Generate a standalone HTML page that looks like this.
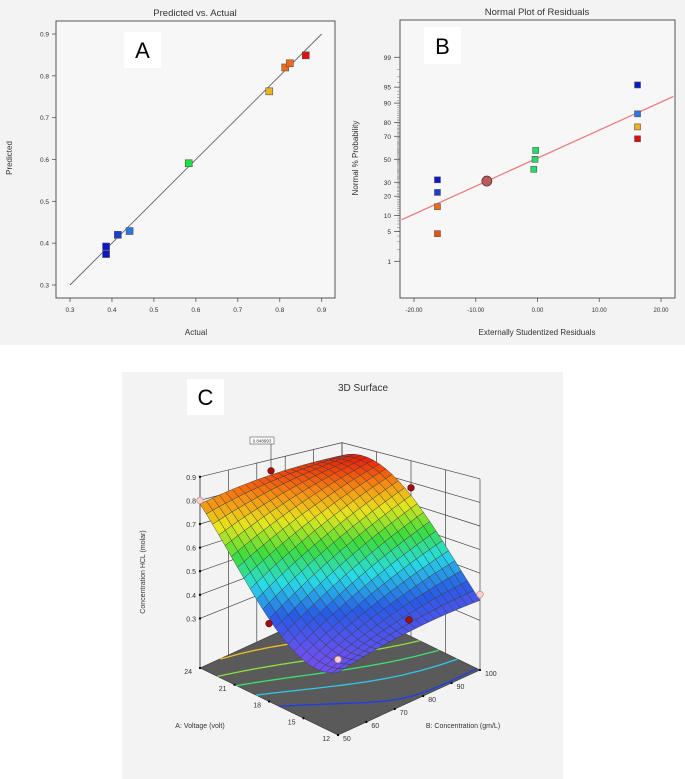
<!DOCTYPE html>
<html><head><meta charset="utf-8"><style>
html,body{margin:0;padding:0;background:#fff;}
body{width:685px;height:779px;position:relative;overflow:hidden;font-family:"Liberation Sans",sans-serif;}
svg{position:absolute;left:0;top:0;}
text{font-family:"Liberation Sans",sans-serif;}
</style></head><body>
<svg id="svg" width="685" height="779" viewBox="0 0 685 779">
<rect x="0" y="0" width="685" height="345" fill="#f3f3f3"/>
<rect x="122" y="372" width="441" height="407" fill="#f3f3f3"/>
<g id="gA"></g>
<g id="gB"></g>
<g id="gC"></g>
</svg>
<script>
// ---------- Panel A data ----------
const aActual = [0.386,0.386,0.414,0.442,0.583,0.775,0.813,0.824,0.862];
const aPredicted = [0.392,0.374,0.420,0.429,0.591,0.763,0.820,0.830,0.849];
const aColors = ['#0a16c8','#0a16c8','#1840d0','#2a78e0','#22dd44','#f0b020','#f06a18','#f06a18','#e01010'];
const aTicks = [0.3,0.4,0.5,0.6,0.7,0.8,0.9];
// ---------- Panel B data ----------
const bResid = [-16.2,-16.2,-16.2,-16.2,-0.3,-0.4,-0.6,16.2,16.2,16.2,16.2];
const bProb = [32,22.5,14,4.5,58,50,41,95.5,85,77,68];
const bColors = ['#0a16c8','#1840d0','#f06a18','#f05010','#22dd66','#22dd66','#22dd66','#0a16c8','#2a78e0','#f0b020','#e01010'];
const bTickProb = [99,95,90,80,70,50,30,20,10,5,1];
const bTickX = [-20,-10,0,10,20];
const bLineX = [-22,22];
const bLineProb = [8.4,92.4];
const bHighlight = [-8.2,31];
// ---------- Panel C data ----------
const cZTicks = [0.3,0.4,0.5,0.6,0.7,0.8,0.9];
const cATicks = [24,21,18,15,12];
const cBTicks = [50,60,70,80,90,100];
const cPtsA = [24,18,18,12,24,12,12];
const cPtsB = [75,100,50,75,50,50,100];
const cPtsZ = [0.849,0.775,0.42,0.44,0.80,0.41,0.41];
const cPtsAbove = [true,true,true,true,false,false,false];
const cLevels = [0.4,0.5,0.6,0.7,0.8];
const cLevelColors = ['#1c3cf0','#30c8e8','#3ce070','#8ce040','#f0c020'];

const NS='http://www.w3.org/2000/svg';
function el(p,tag,attrs,txt){const e=document.createElementNS(NS,tag);for(const k in attrs)e.setAttribute(k,attrs[k]);if(txt!==undefined)e.textContent=txt;p.appendChild(e);return e;}

// ===== Panel A =====
(function(){
const g=document.getElementById('gA');
const X=v=>70+(v-0.3)/0.6*251.7, Y=v=>285-(v-0.3)/0.6*251;
let r=el(g,'rect',{x:56,y:21,width:279,height:277,fill:'#f7f7f7',stroke:'#555','stroke-width':1});


let t=el(g,'text',{x:195,y:16,'font-size':9.5,'text-anchor':'middle',fill:'#333'},'Predicted vs. Actual');


aTicks.forEach(v=>{
 el(g,'line',{x1:52,x2:56,y1:Y(v),y2:Y(v),stroke:'#555','stroke-width':0.8});
 let l=el(g,'text',{x:49,y:Y(v)+2.5,'font-size':6.5,'text-anchor':'end',fill:'#333'},v.toFixed(1));
 
 
 el(g,'line',{x1:X(v),x2:X(v),y1:298,y2:302,stroke:'#555','stroke-width':0.8});
 let m=el(g,'text',{x:X(v),y:312,'font-size':6.5,'text-anchor':'middle',fill:'#333'},v.toFixed(1));
 
 
});
let xl=el(g,'text',{x:196,y:335,'font-size':8,'text-anchor':'middle',fill:'#333'},'Actual');


let yl=el(g,'text',{x:12,y:158,'font-size':8,'text-anchor':'middle',fill:'#333',transform:'rotate(-90 12 158)'},'Predicted');


let ln=el(g,'line',{x1:X(0.3),y1:Y(0.3),x2:X(0.9),y2:Y(0.9),stroke:'#666','stroke-width':0.9});


aActual.forEach((v,i)=>{
 let p=el(g,'rect',{x:X(v)-3.5,y:Y(aPredicted[i])-3.5,width:7,height:7,fill:aColors[i],stroke:'#555','stroke-width':0.6});
 
 
});
let lb=el(g,'rect',{x:124,y:32,width:37,height:36,fill:'#fff'});


let lt=el(g,'text',{x:142.5,y:58,'font-size':22,'text-anchor':'middle','font-family':'Liberation Serif',fill:'#000'},'A');


})();

// ===== Panel B =====
function invNorm(p){
 const a=[-39.69683028665376,220.9460984245205,-275.9285104469687,138.357751867269,-30.66479806614716,2.506628277459239];
 const b=[-54.47609879822406,161.5858368580409,-155.6989798598866,66.80131188771972,-13.28068155288572];
 const c=[-0.007784894002430293,-0.3223964580411365,-2.400758277161838,-2.549732539343734,4.374664141464968,2.938163982698783];
 const d=[0.007784695709041462,0.3224671290700398,2.445134137142996,3.754408661907416];
 const pl=0.02425;let q,r;
 if(p<pl){q=Math.sqrt(-2*Math.log(p));return (((((c[0]*q+c[1])*q+c[2])*q+c[3])*q+c[4])*q+c[5])/((((d[0]*q+d[1])*q+d[2])*q+d[3])*q+1);}
 if(p>1-pl){q=Math.sqrt(-2*Math.log(1-p));return -(((((c[0]*q+c[1])*q+c[2])*q+c[3])*q+c[4])*q+c[5])/((((d[0]*q+d[1])*q+d[2])*q+d[3])*q+1);}
 q=p-0.5;r=q*q;return (((((a[0]*r+a[1])*r+a[2])*r+a[3])*r+a[4])*r+a[5])*q/(((((b[0]*r+b[1])*r+b[2])*r+b[3])*r+b[4])*r+1);
}
(function(){
const g=document.getElementById('gB');
const X=v=>537.5+v*6.175, Y=p=>159.3-invNorm(p/100)*43.85;
let r=el(g,'rect',{x:400,y:20,width:275,height:278,fill:'#f7f7f7',stroke:'#555','stroke-width':1});


let t=el(g,'text',{x:537,y:15,'font-size':9.5,'text-anchor':'middle',fill:'#333'},'Normal Plot of Residuals');


for(let p=2;p<99;p+=1){el(g,'line',{x1:397,x2:400,y1:Y(p),y2:Y(p),stroke:'#777','stroke-width':0.5});}
bTickProb.forEach(p=>{
 el(g,'line',{x1:394,x2:400,y1:Y(p),y2:Y(p),stroke:'#555','stroke-width':0.8});
 let l=el(g,'text',{x:391,y:Y(p)+2.5,'font-size':6.5,'text-anchor':'end',fill:'#333'},String(p));
 
 
});
bTickX.forEach(v=>{
 el(g,'line',{x1:X(v),x2:X(v),y1:298,y2:302,stroke:'#555','stroke-width':0.8});
 let m=el(g,'text',{x:X(v),y:312,'font-size':6,'text-anchor':'middle',fill:'#333'},v.toFixed(2));
 
 
});
let xl=el(g,'text',{x:537,y:335,'font-size':8,'text-anchor':'middle',fill:'#333'},'Externally Studentized Residuals');


let yl=el(g,'text',{x:358,y:158,'font-size':8,'text-anchor':'middle',fill:'#333',transform:'rotate(-90 358 158)'},'Normal % Probability');


let ln=el(g,'line',{x1:X(bLineX[0]),y1:Y(bLineProb[0]),x2:X(bLineX[1]),y2:Y(bLineProb[1]),stroke:'#e88080','stroke-width':1.3});


let hc=el(g,'circle',{cx:X(bHighlight[0]),cy:Y(bHighlight[1]),r:5,fill:'#b85c5c',stroke:'#6a3030','stroke-width':0.8});


bResid.forEach((v,i)=>{
 let p=el(g,'rect',{x:X(v)-3,y:Y(bProb[i])-3,width:6,height:6,fill:bColors[i],stroke:'#555','stroke-width':0.6});
 
 
});
let lb=el(g,'rect',{x:424,y:27,width:37,height:37,fill:'#fff'});


let lt=el(g,'text',{x:442.5,y:54,'font-size':22,'text-anchor':'middle','font-family':'Liberation Serif',fill:'#000'},'B');


})();

// ===== Panel C =====
(function(){
const g=document.getElementById('gC');
const ZF=0.09;
function surf(A,B){const a=(A-18)/6,b=(B-75)/25;
 const c0=0.61+0.30*a-0.08*a*a*a;
 const bc=0.15+0.005*a-0.13*a*a;
 return c0+bc*b-0.02*b*b;}
function P(A,B,z){const u=(24-A)/12,v=(B-50)/50;const k=236-38*v*(1-u);
 const x=200+138*u+142*v, y=668+67*u-65*v-(z-ZF)*k;return [x,y];}
function pts(arr){return arr.map(p=>p[0].toFixed(1)+','+p[1].toFixed(1)).join(' ');}
let t=el(g,'text',{x:363,y:391,'font-size':10,'text-anchor':'middle',fill:'#333'},'3D Surface');


let fl=el(g,'polygon',{points:pts([P(24,50,ZF),P(12,50,ZF),P(12,100,ZF),P(24,100,ZF)]),fill:'#5a5a5a',stroke:'#333','stroke-width':0.6});


cLevels.forEach((L,li)=>{
 const seg=[];
 for(let B=50;B<=100.01;B+=1){
  let lo=12,hi=24;
  if((surf(lo,B)-L)*(surf(hi,B)-L)>0)continue;
  for(let it=0;it<30;it++){const m=(lo+hi)/2;if(surf(m,B)<L)lo=m;else hi=m;}
  seg.push(P((lo+hi)/2,B,ZF));
 }
 if(seg.length>1){let c=el(g,'polyline',{points:pts(seg),fill:'none',stroke:cLevelColors[li],'stroke-width':1.3});
 
 }
});
const wallStroke={stroke:'#444','stroke-width':0.7,fill:'none'};
cZTicks.forEach(z=>{
 el(g,'polyline',Object.assign({points:pts([P(24,50,z),P(24,100,z),P(12,100,z)])},wallStroke));
});
cBTicks.forEach(B=>{el(g,'line',Object.assign({x1:P(24,B,ZF)[0],y1:P(24,B,ZF)[1],x2:P(24,B,0.9)[0],y2:P(24,B,0.9)[1]},wallStroke));});
cATicks.forEach(A=>{el(g,'line',Object.assign({x1:P(A,100,ZF)[0],y1:P(A,100,ZF)[1],x2:P(A,100,0.9)[0],y2:P(A,100,0.9)[1]},wallStroke));});
el(g,'line',Object.assign({x1:P(24,50,ZF)[0],y1:P(24,50,ZF)[1],x2:P(24,50,0.9)[0],y2:P(24,50,0.9)[1]},wallStroke));
cZTicks.forEach(z=>{const p=P(24,50,z);
 el(g,'circle',{cx:p[0],cy:p[1],r:1.2,fill:'#000'});
 let l=el(g,'text',{x:p[0]-4,y:p[1]+3,'font-size':7,'text-anchor':'end',fill:'#333'},z.toFixed(1));
 
 
});
cATicks.forEach(A=>{const p=P(A,50,ZF);
 el(g,'circle',{cx:p[0],cy:p[1],r:1.1,fill:'#000'});
 let l=el(g,'text',{x:p[0]-8,y:p[1]+6,'font-size':7,'text-anchor':'end',fill:'#333'},String(A));
 
 
});
cBTicks.forEach(B=>{const p=P(12,B,ZF);
 el(g,'circle',{cx:p[0],cy:p[1],r:1.1,fill:'#000'});
 let l=el(g,'text',{x:p[0]+5,y:p[1]+6,'font-size':7,'text-anchor':'start',fill:'#333'},String(B));
 
 
});
function jet(f){f=Math.max(0,Math.min(1,f));
 const stops=[[0,[110,80,240]],[0.2,[40,90,230]],[0.38,[40,220,230]],[0.55,[60,220,60]],[0.72,[230,230,30]],[0.86,[245,140,20]],[1,[235,30,10]]];
 for(let i=1;i<stops.length;i++){if(f<=stops[i][0]){const s=stops[i-1],e=stops[i],t=(f-s[0])/(e[0]-s[0]);
  return 'rgb('+s[1].map((c,j)=>Math.round(c+(e[1][j]-c)*t)).join(',')+')';}}
 return 'rgb(235,30,10)';}
const N=22, quads=[];
for(let i=0;i<N;i++)for(let j=0;j<N;j++){
 const A0=24-12*i/N,A1=24-12*(i+1)/N,B0=50+50*j/N,B1=50+50*(j+1)/N;
 const zc=surf((A0+A1)/2,(B0+B1)/2);
 quads.push({d:(i+0.5)/N-(j+0.5)/N,p:[P(A0,B0,surf(A0,B0)),P(A1,B0,surf(A1,B0)),P(A1,B1,surf(A1,B1)),P(A0,B1,surf(A0,B1))],c:jet((zc-0.34)/0.52)});
}
quads.sort((a,b)=>a.d-b.d);
const sg=el(g,'g',{});


quads.forEach(q=>{el(sg,'polygon',{points:pts(q.p),fill:q.c,stroke:'#3a3a3a','stroke-width':0.45});});
cPtsA.forEach((A,i)=>{const p=P(A,cPtsB[i],cPtsZ[i]);
 let c=el(g,'circle',{cx:p[0],cy:p[1],r:3.3,fill:cPtsAbove[i]?'#a01010':'#f8d0d0',stroke:cPtsAbove[i]?'#600':'#c08080','stroke-width':0.6});
 
 
});
const ap=P(cPtsA[0],cPtsB[0],cPtsZ[0]);
el(g,'line',{x1:ap[0],y1:ap[1]-3,x2:ap[0],y2:444,stroke:'#333','stroke-width':0.6});
let ab=el(g,'rect',{x:ap[0]-21,y:437,width:24,height:7,fill:'#fff',stroke:'#333','stroke-width':0.5});


let at=el(g,'text',{x:ap[0]-9,y:442.5,'font-size':4.5,'text-anchor':'middle',fill:'#333'},'0.848993');


let xa=el(g,'text',{x:200,y:728,'font-size':7,'text-anchor':'middle',fill:'#333'},'A: Voltage (volt)');


let xb=el(g,'text',{x:463,y:728,'font-size':7,'text-anchor':'middle',fill:'#333'},'B: Concentration (gm/L)');


let za=el(g,'text',{x:145,y:572,'font-size':7,'text-anchor':'middle',fill:'#333',transform:'rotate(-90 145 572)'},'Concentration HCL (molar)');


let lb=el(g,'rect',{x:187,y:379,width:37,height:36,fill:'#fff'});


let lt=el(g,'text',{x:205.5,y:405,'font-size':22,'text-anchor':'middle','font-family':'Liberation Serif',fill:'#000'},'C');


})();
</script>
</body></html>
